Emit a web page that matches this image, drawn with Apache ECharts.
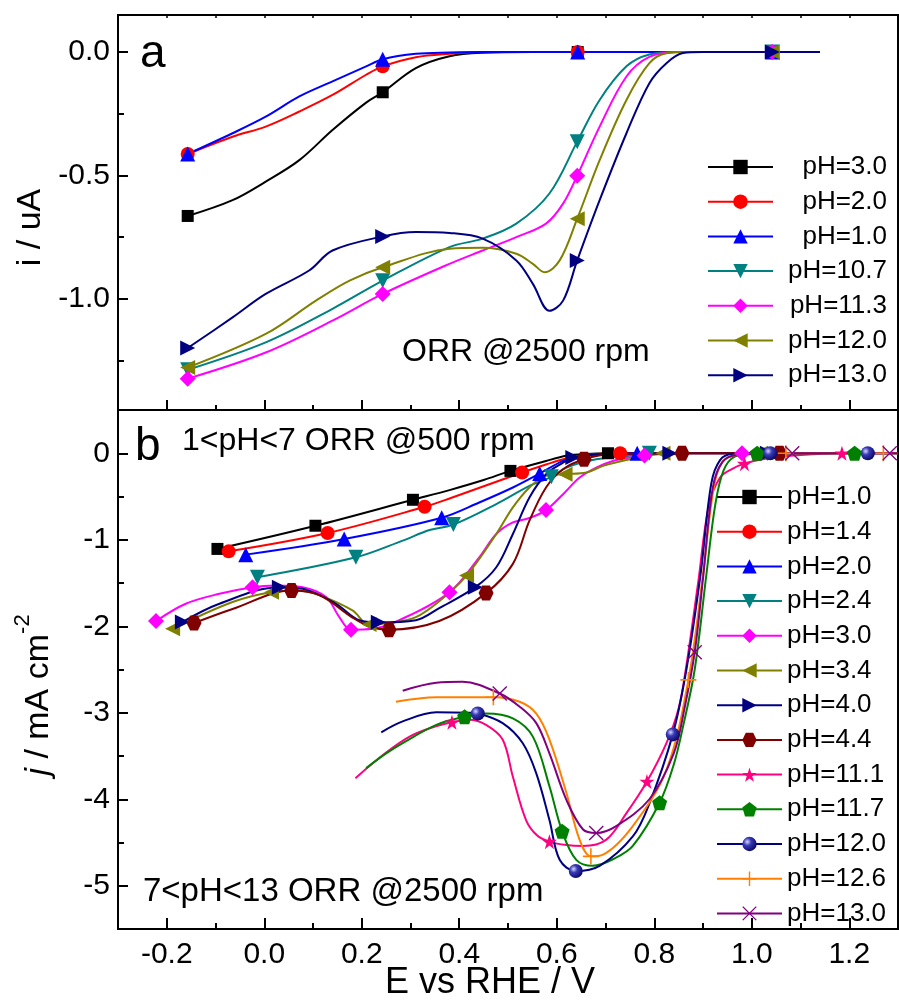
<!DOCTYPE html>
<html><head><meta charset="utf-8">
<script src="https://cdn.jsdelivr.net/npm/echarts@6/dist/echarts.min.js"></script>
<style>html,body{margin:0;padding:0;background:#fff}#c{width:899px;height:1000px}</style>
</head><body><div id="c"></div>
<script>
// ---------- tick values ----------
const xMajorTicks = [-0.2, 0.0, 0.2, 0.4, 0.6, 0.8, 1.0, 1.2];
const xMinorTicks = [-0.1, 0.1, 0.3, 0.5, 0.7, 0.9, 1.1];
const xTopTicks = [-0.2, -0.1, 0.0, 0.1, 0.2, 0.3, 0.4, 0.5, 0.6, 0.7, 0.8, 0.9, 1.0, 1.1, 1.2];
const yMajorA = [0.0, -0.5, -1.0];
const yMinorA = [-0.25, -0.75, -1.25];
const yMajorB = [0, -1, -2, -3, -4, -5];
const yMinorB = [-0.5, -1.5, -2.5, -3.5, -4.5];

// ---------- legend labels ----------
const legendA = ['pH=3.0', 'pH=2.0', 'pH=1.0', 'pH=10.7', 'pH=11.3', 'pH=12.0', 'pH=13.0'];
const legendB = ['pH=1.0', 'pH=1.4', 'pH=2.0', 'pH=2.4', 'pH=3.0', 'pH=3.4', 'pH=4.0', 'pH=4.4',
                 'pH=11.1', 'pH=11.7', 'pH=12.0', 'pH=12.6', 'pH=13.0'];

// ---------- panel a data: [E (V), i (uA)] ----------
const a_pH30 = [[-0.157,-0.664],[-0.065,-0.60],[0.003,-0.525],[0.072,-0.438],[0.14,-0.316],[0.209,-0.205],[0.243,-0.163],[0.311,-0.065],[0.38,-0.017],[0.448,-0.003],[0.55,0],[0.643,0],[0.85,0],[1.043,0],[1.14,0]];
const a_pH30_marks = [0, 6, 11, 13];
const a_pH20 = [[-0.157,-0.413],[-0.065,-0.343],[0.003,-0.302],[0.072,-0.241],[0.14,-0.174],[0.209,-0.092],[0.243,-0.058],[0.311,-0.021],[0.38,-0.007],[0.45,0],[0.643,0],[0.85,0],[1.043,0],[1.14,0]];
const a_pH20_marks = [0, 6, 10, 12];
const a_pH10 = [[-0.157,-0.413],[-0.065,-0.329],[0.003,-0.262],[0.072,-0.18],[0.14,-0.119],[0.209,-0.058],[0.243,-0.029],[0.311,-0.007],[0.38,-0.002],[0.45,0],[0.643,0],[0.85,0],[1.043,0],[1.14,0]];
const a_pH10_marks = [0, 6, 10, 12];
const a_pH107 = [[-0.157,-1.287],[0.003,-1.176],[0.14,-1.04],[0.243,-0.926],[0.38,-0.79],[0.448,-0.756],[0.517,-0.695],[0.585,-0.573],[0.642,-0.363],[0.688,-0.194],[0.743,-0.058],[0.79,-0.01],[0.85,0],[1.042,0],[1.14,0]];
const a_pH107_marks = [0, 3, 8, 13];
const a_pH113 = [[-0.157,-1.323],[0.003,-1.217],[0.14,-1.088],[0.243,-0.98],[0.38,-0.858],[0.448,-0.804],[0.517,-0.75],[0.578,-0.695],[0.613,-0.614],[0.642,-0.501],[0.688,-0.302],[0.743,-0.099],[0.79,-0.02],[0.85,0],[1.042,0],[1.14,0]];
const a_pH113_marks = [0, 3, 9, 14];
const a_pH120 = [[-0.157,-1.278],[0.003,-1.142],[0.106,-1.007],[0.175,-0.926],[0.243,-0.872],[0.38,-0.797],[0.448,-0.793],[0.517,-0.817],[0.551,-0.858],[0.575,-0.892],[0.606,-0.844],[0.642,-0.675],[0.688,-0.438],[0.743,-0.194],[0.79,-0.045],[0.825,-0.005],[0.87,0],[1.042,0],[1.14,0]];
const a_pH120_marks = [0, 4, 11, 17];
const a_pH130 = [[-0.157,-1.199],[-0.065,-1.075],[0.003,-0.98],[0.092,-0.885],[0.14,-0.804],[0.243,-0.747],[0.311,-0.729],[0.38,-0.733],[0.448,-0.756],[0.517,-0.844],[0.551,-0.939],[0.585,-1.048],[0.613,-1.007],[0.642,-0.844],[0.688,-0.60],[0.743,-0.329],[0.79,-0.126],[0.825,-0.045],[0.859,-0.004],[0.9,0],[1.042,0],[1.14,0]];
const a_pH130_marks = [0, 5, 13, 20];

// ---------- panel b data: [E (V), j (mA cm-2)] ----------
const b_pH10 = [[-0.096,-1.106],[0.105,-0.838],[0.305,-0.538],[0.38,-0.426],[0.45,-0.31],[0.505,-0.204],[0.578,-0.089],[0.62,-0.03],[0.66,-0.008],[0.705,0],[0.85,0]];
const b_pH10_marks = [0, 1, 2, 5, 9];
const b_pH14 = [[-0.073,-1.134],[0.13,-0.922],[0.329,-0.619],[0.38,-0.523],[0.529,-0.223],[0.578,-0.13],[0.62,-0.06],[0.67,-0.015],[0.73,0],[0.85,0]];
const b_pH14_marks = [0, 1, 2, 4, 8];
const b_pH20 = [[-0.038,-1.172],[0.164,-0.991],[0.364,-0.745],[0.441,-0.569],[0.51,-0.396],[0.565,-0.235],[0.613,-0.089],[0.647,-0.035],[0.7,-0.008],[0.765,0],[0.85,0]];
const b_pH20_marks = [0, 1, 2, 5, 9];
const b_pH24 = [[-0.014,-1.433],[0.188,-1.203],[0.284,-1.01],[0.339,-0.887],[0.388,-0.825],[0.476,-0.588],[0.544,-0.377],[0.589,-0.273],[0.62,-0.165],[0.681,-0.07],[0.75,-0.03],[0.79,0],[0.85,0]];
const b_pH24_marks = [0, 1, 4, 7, 11];
const b_pH30 = [[-0.222,-1.94],[-0.161,-1.74],[-0.092,-1.625],[-0.024,-1.548],[0.024,-1.529],[0.079,-1.548],[0.127,-1.663],[0.154,-1.894],[0.178,-2.04],[0.222,-2.03],[0.277,-1.93],[0.38,-1.606],[0.441,-1.203],[0.476,-0.933],[0.51,-0.80],[0.544,-0.749],[0.578,-0.657],[0.613,-0.473],[0.647,-0.281],[0.681,-0.166],[0.715,-0.089],[0.75,-0.05],[0.78,-0.025],[0.85,0],[0.98,0],[1.0,0]];
const b_pH30_marks = [0, 3, 8, 11, 16, 22, 24];
const b_pH34 = [[-0.188,-2.03],[-0.065,-1.72],[0.015,-1.606],[0.072,-1.59],[0.113,-1.64],[0.181,-1.817],[0.215,-1.98],[0.26,-1.96],[0.311,-1.894],[0.359,-1.71],[0.415,-1.414],[0.476,-0.933],[0.51,-0.626],[0.544,-0.396],[0.578,-0.26],[0.617,-0.242],[0.661,-0.223],[0.695,-0.146],[0.75,-0.07],[0.818,0],[1.018,0],[1.05,0]];
const b_pH34_marks = [0, 2, 6, 10, 15, 19, 20];
const b_pH40 = [[-0.168,-1.951],[-0.092,-1.74],[0.031,-1.548],[0.079,-1.567],[0.147,-1.74],[0.195,-1.93],[0.234,-1.955],[0.311,-1.93],[0.359,-1.79],[0.433,-1.548],[0.476,-1.318],[0.51,-0.933],[0.544,-0.511],[0.578,-0.242],[0.613,-0.108],[0.633,-0.05],[0.68,-0.015],[0.832,0],[1.032,0],[1.05,0]];
const b_pH40_marks = [0, 2, 6, 9, 15, 17, 18];
const b_pH44 = [[-0.144,-1.963],[-0.065,-1.8],[0.056,-1.587],[0.113,-1.64],[0.181,-1.9],[0.215,-2.0],[0.256,-2.04],[0.359,-1.94],[0.455,-1.617],[0.51,-1.279],[0.544,-0.78],[0.578,-0.396],[0.613,-0.185],[0.656,-0.07],[0.715,-0.01],[0.857,0],[1.057,0],[1.1,0]];
const b_pH44_marks = [0, 2, 6, 8, 13, 15, 16];
const b_pH111 = [[0.187,-3.756],[0.25,-3.46],[0.30,-3.27],[0.35,-3.16],[0.385,-3.11],[0.421,-3.08],[0.455,-3.14],[0.489,-3.31],[0.51,-3.74],[0.537,-4.24],[0.56,-4.42],[0.585,-4.49],[0.62,-4.53],[0.654,-4.54],[0.701,-4.47],[0.743,-4.16],[0.785,-3.795],[0.825,-3.35],[0.85,-2.95],[0.866,-2.45],[0.89,-1.5],[0.912,-0.6],[0.935,-0.28],[0.96,-0.18],[0.985,-0.12],[1.03,-0.06],[1.1,-0.02],[1.185,0],[1.3,0]];
const b_pH111_marks = [4, 11, 16, 24, 27];
const b_pH117 = [[0.209,-3.64],[0.25,-3.47],[0.284,-3.35],[0.353,-3.14],[0.411,-3.046],[0.455,-3.008],[0.51,-3.065],[0.551,-3.276],[0.585,-3.85],[0.611,-4.37],[0.64,-4.70],[0.674,-4.77],[0.72,-4.68],[0.756,-4.54],[0.811,-4.04],[0.84,-3.6],[0.859,-3.16],[0.883,-2.5],[0.907,-1.4],[0.925,-0.6],[0.942,-0.2],[0.965,-0.04],[1.011,0],[1.211,0],[1.3,0]];
const b_pH117_marks = [4, 9, 14, 22, 23];
const b_pH120 = [[0.24,-3.226],[0.284,-3.10],[0.353,-2.995],[0.421,-3.0],[0.438,-3.008],[0.489,-3.12],[0.53,-3.35],[0.558,-3.70],[0.585,-4.24],[0.606,-4.70],[0.639,-4.83],[0.688,-4.77],[0.756,-4.43],[0.79,-4.05],[0.838,-3.25],[0.866,-2.5],[0.895,-1.4],[0.917,-0.35],[0.935,-0.08],[0.96,-0.01],[1.038,0],[1.238,0],[1.3,0]];
const b_pH120_marks = [4, 10, 14, 20, 21];
const b_pH126 = [[0.27,-2.873],[0.353,-2.82],[0.47,-2.82],[0.524,-2.873],[0.558,-3.01],[0.585,-3.31],[0.62,-3.93],[0.647,-4.47],[0.67,-4.66],[0.695,-4.64],[0.756,-4.31],[0.825,-3.66],[0.87,-2.62],[0.90,-1.4],[0.922,-0.4],[0.94,-0.1],[0.97,-0.02],[1.07,0],[1.27,0],[1.3,0]];
const b_pH126_marks = [2, 8, 12, 17, 18];
const b_pH130 = [[0.284,-2.746],[0.353,-2.654],[0.407,-2.643],[0.483,-2.777],[0.524,-2.93],[0.558,-3.12],[0.585,-3.47],[0.62,-4.01],[0.654,-4.35],[0.681,-4.39],[0.722,-4.31],[0.79,-4.0],[0.84,-3.47],[0.862,-2.95],[0.883,-2.30],[0.90,-1.45],[0.92,-0.4],[0.94,-0.1],[0.97,-0.02],[1.083,0],[1.283,0],[1.3,0]];
const b_pH130_marks = [3, 9, 14, 19, 20];

// ---------- styling ----------
const FONT = "'Liberation Sans', Arial, Helvetica, sans-serif";
const SYM = {
  down: 'path://M0,0 L10,0 L5,9 Z',
  left: 'path://M9,0 L9,10 L0,5 Z',
  right: 'path://M0,0 L9,5 L0,10 Z',
  hex: 'path://M0,5 L2.9,0 L9.1,0 L12,5 L9.1,10 L2.9,10 Z',
  star: 'path://M10,0 L12.245,6.91 L19.511,6.91 L13.633,11.18 L15.878,18.09 L10,13.82 L4.122,18.09 L6.367,11.18 L0.489,6.91 L7.755,6.91 Z',
  pent: 'path://M10,0 L19.51,6.91 L15.88,18.09 L4.12,18.09 L0.49,6.91 Z',
  plus: 'path://M7.2,0 L8.8,0 L8.8,7.2 L16,7.2 L16,8.8 L8.8,8.8 L8.8,16 L7.2,16 L7.2,8.8 L0,8.8 L0,7.2 L7.2,7.2 Z',
  cross: 'path://M0,1 L1,0 L8,7 L15,0 L16,1 L9,8 L16,15 L15,16 L8,9 L1,16 L0,15 L7,8 Z'
};
const ball = {type:'radial', x:0.35, y:0.35, r:0.75, colorStops:[{offset:0,color:'#d8d8ff'},{offset:0.35,color:'#3a3ab8'},{offset:1,color:'#00005a'}]};

function mk(panel, label, pts, marks, color, symbol, size, fill) {
  return {
    type: 'line',
    name: panel + ':' + label,
    xAxisIndex: panel === 'a' ? 0 : 3,
    yAxisIndex: panel === 'a' ? 0 : 2,
    data: pts.map((p, i) => marks.includes(i) ? {value: p} : {value: p, symbol: 'none'}),
    symbol: symbol, symbolSize: size,
    showSymbol: true, showAllSymbol: true,
    smooth: 0.35,
    color: color,
    lineStyle: {width: 2, color: color},
    itemStyle: {color: fill || color},
    emphasis: {disabled: true},
    silent: true
  };
}

const series = [
  mk('a', legendA[0], a_pH30, a_pH30_marks, '#000000', 'rect', 12),
  mk('a', legendA[1], a_pH20, a_pH20_marks, '#FF0000', 'circle', 14),
  mk('a', legendA[2], a_pH10, a_pH10_marks, '#0000FF', 'triangle', 15),
  mk('a', legendA[3], a_pH107, a_pH107_marks, '#008080', SYM.down, 15),
  mk('a', legendA[4], a_pH113, a_pH113_marks, '#FF00FF', 'diamond', 16),
  mk('a', legendA[5], a_pH120, a_pH120_marks, '#808000', SYM.left, 15),
  mk('a', legendA[6], a_pH130, a_pH130_marks, '#000080', SYM.right, 15),
  mk('b', legendB[0], b_pH10, b_pH10_marks, '#000000', 'rect', 12),
  mk('b', legendB[1], b_pH14, b_pH14_marks, '#FF0000', 'circle', 14),
  mk('b', legendB[2], b_pH20, b_pH20_marks, '#0000FF', 'triangle', 15),
  mk('b', legendB[3], b_pH24, b_pH24_marks, '#008080', SYM.down, 15),
  mk('b', legendB[4], b_pH30, b_pH30_marks, '#FF00FF', 'diamond', 16),
  mk('b', legendB[5], b_pH34, b_pH34_marks, '#808000', SYM.left, 15),
  mk('b', legendB[6], b_pH40, b_pH40_marks, '#000080', SYM.right, 15),
  mk('b', legendB[7], b_pH44, b_pH44_marks, '#800000', SYM.hex, 15),
  mk('b', legendB[8], b_pH111, b_pH111_marks, '#FF0080', SYM.star, 15),
  mk('b', legendB[9], b_pH117, b_pH117_marks, '#008000', SYM.pent, 15),
  mk('b', legendB[10], b_pH120, b_pH120_marks, '#000080', 'circle', 14, ball),
  mk('b', legendB[11], b_pH126, b_pH126_marks, '#FF8000', SYM.plus, 16),
  mk('b', legendB[12], b_pH130, b_pH130_marks, '#800080', SYM.cross, 15)
];

const black = '#000';
function tickAxis(o) {
  const base = {type:'value', splitLine:{show:false}, axisLabel:{show:false}, axisLine:{show:false, onZero:false}, nameMoveOverlap:false};
  const r = Object.assign(base, o);
  r.axisLine = Object.assign({onZero:false}, r.axisLine);
  return r;
}

const option = {
  animation: false,
  backgroundColor: '#fff',
  textStyle: {fontFamily: FONT},
  grid: [
    {left:118, top:15, width:780, height:395, show:true, borderColor:black, borderWidth:2, backgroundColor:'transparent',
      containLabel:false, outerBoundsMode:'none'},
    {left:118, top:410, width:780, height:519, show:true, borderColor:black, borderWidth:2, backgroundColor:'transparent',
      containLabel:false, outerBoundsMode:'none'}
  ],
  xAxis: [
    tickAxis({gridIndex:0, position:'bottom', min:-0.3, max:1.3, axisLine:{show:true, onZero:false, lineStyle:{color:black, width:2}},
      axisTick:{show:true, inside:true, length:10, lineStyle:{color:black, width:2}, customValues:xMajorTicks}}),
    tickAxis({gridIndex:0, position:'bottom', min:-0.3, max:1.3,
      axisTick:{show:true, inside:true, length:5, lineStyle:{color:black, width:2}, customValues:xMinorTicks}}),
    tickAxis({gridIndex:0, position:'top', min:-0.3, max:1.3,
      axisTick:{show:true, inside:true, length:3, lineStyle:{color:black, width:1.5}, customValues:xTopTicks}}),
    tickAxis({gridIndex:1, position:'bottom', min:-0.3, max:1.3, axisLine:{show:true, onZero:false, lineStyle:{color:black, width:2}},
      axisTick:{show:true, inside:true, length:11, lineStyle:{color:black, width:2}, customValues:xMajorTicks},
      axisLabel:{show:true, customValues:xMajorTicks, color:black, fontSize:30, fontFamily:FONT, margin:11,
        formatter: v => Number(v).toFixed(1)},
      name:'E vs RHE / V', nameLocation:'middle', nameGap:36,
      nameTextStyle:{fontSize:36, color:black, fontFamily:FONT, padding:[0,36,0,0]}}),
    tickAxis({gridIndex:1, position:'bottom', min:-0.3, max:1.3,
      axisTick:{show:true, inside:true, length:6, lineStyle:{color:black, width:2}, customValues:xMinorTicks}})
  ],
  yAxis: [
    tickAxis({gridIndex:0, position:'left', min:-1.45, max:0.15, axisLine:{show:true, onZero:false, lineStyle:{color:black, width:2}},
      axisTick:{show:true, inside:true, length:10, lineStyle:{color:black, width:2}, customValues:yMajorA},
      axisLabel:{show:true, customValues:yMajorA, color:black, fontSize:30, fontFamily:FONT, margin:8,
        formatter: v => Number(v).toFixed(1)},
      name:'i / uA', nameLocation:'middle', nameGap:70,
      nameTextStyle:{fontSize:34, color:black, fontFamily:FONT, padding:[0,30,0,0]}}),
    tickAxis({gridIndex:0, position:'left', min:-1.45, max:0.15,
      axisTick:{show:true, inside:true, length:6, lineStyle:{color:black, width:2}, customValues:yMinorA}}),
    tickAxis({gridIndex:1, position:'left', min:-5.5, max:0.5, axisLine:{show:true, onZero:false, lineStyle:{color:black, width:2}},
      axisTick:{show:true, inside:true, length:10, lineStyle:{color:black, width:2}, customValues:yMajorB},
      axisLabel:{show:true, customValues:yMajorB, color:black, fontSize:30, fontFamily:FONT, margin:8,
        formatter: v => String(Math.round(v))},
      name:'{i|j}{n| / mA cm}{s|-2}', nameLocation:'middle', nameGap:62,
      nameTextStyle:{fontSize:34, color:black, fontFamily:FONT, padding:[0,51,0,0],
        rich:{
          i:{fontSize:34, fontStyle:'italic', fontFamily:FONT, color:black, lineHeight:44, verticalAlign:'bottom'},
          n:{fontSize:34, fontFamily:FONT, color:black, lineHeight:44, verticalAlign:'bottom'},
          s:{fontSize:22, fontFamily:FONT, color:black, lineHeight:22, verticalAlign:'top'}
        }}}),
    tickAxis({gridIndex:1, position:'left', min:-5.5, max:0.5,
      axisTick:{show:true, inside:true, length:6, lineStyle:{color:black, width:2}, customValues:yMinorB}})
  ],
  legend: [
    {data: legendA.map(n => 'a:' + n), orient:'vertical', left:707, top:154, padding:0,
      itemWidth:65, itemHeight:18, itemGap:8.7, selectedMode:false,
      formatter: n => '{r|' + n.slice(2) + '}',
      textStyle:{fontSize:26, color:black, fontFamily:FONT, lineHeight:26,
        rich:{r:{fontSize:26, fontFamily:FONT, color:black, width:109, align:'right', lineHeight:26}}}},
    {data: legendB.map(n => 'b:' + n), orient:'vertical', left:716, top:484, padding:0,
      itemWidth:65, itemHeight:18, itemGap:8.7, selectedMode:false,
      formatter: n => n.slice(2),
      textStyle:{fontSize:26, color:black, fontFamily:FONT, lineHeight:26}}
  ],
  graphic: [
    {type:'text', left:140, top:31, style:{text:'a', fontSize:46, fontFamily:FONT, fill:black}},
    {type:'text', left:135, top:424, style:{text:'b', fontSize:46, fontFamily:FONT, fill:black}},
    {type:'text', left:402, top:336, style:{text:'ORR @2500 rpm', fontSize:32, fontFamily:FONT, fill:black}},
    {type:'text', left:182, top:425, style:{text:'1<pH<7 ORR @500 rpm', fontSize:32, fontFamily:FONT, fill:black}},
    {type:'text', left:143, top:875, style:{text:'7<pH<13 ORR @2500 rpm', fontSize:33, fontFamily:FONT, fill:black}}
  ],
  series: series
};

const chart = echarts.init(document.getElementById('c'), null, {renderer:'canvas'});
chart.setOption(option);
</script>
</body></html>
